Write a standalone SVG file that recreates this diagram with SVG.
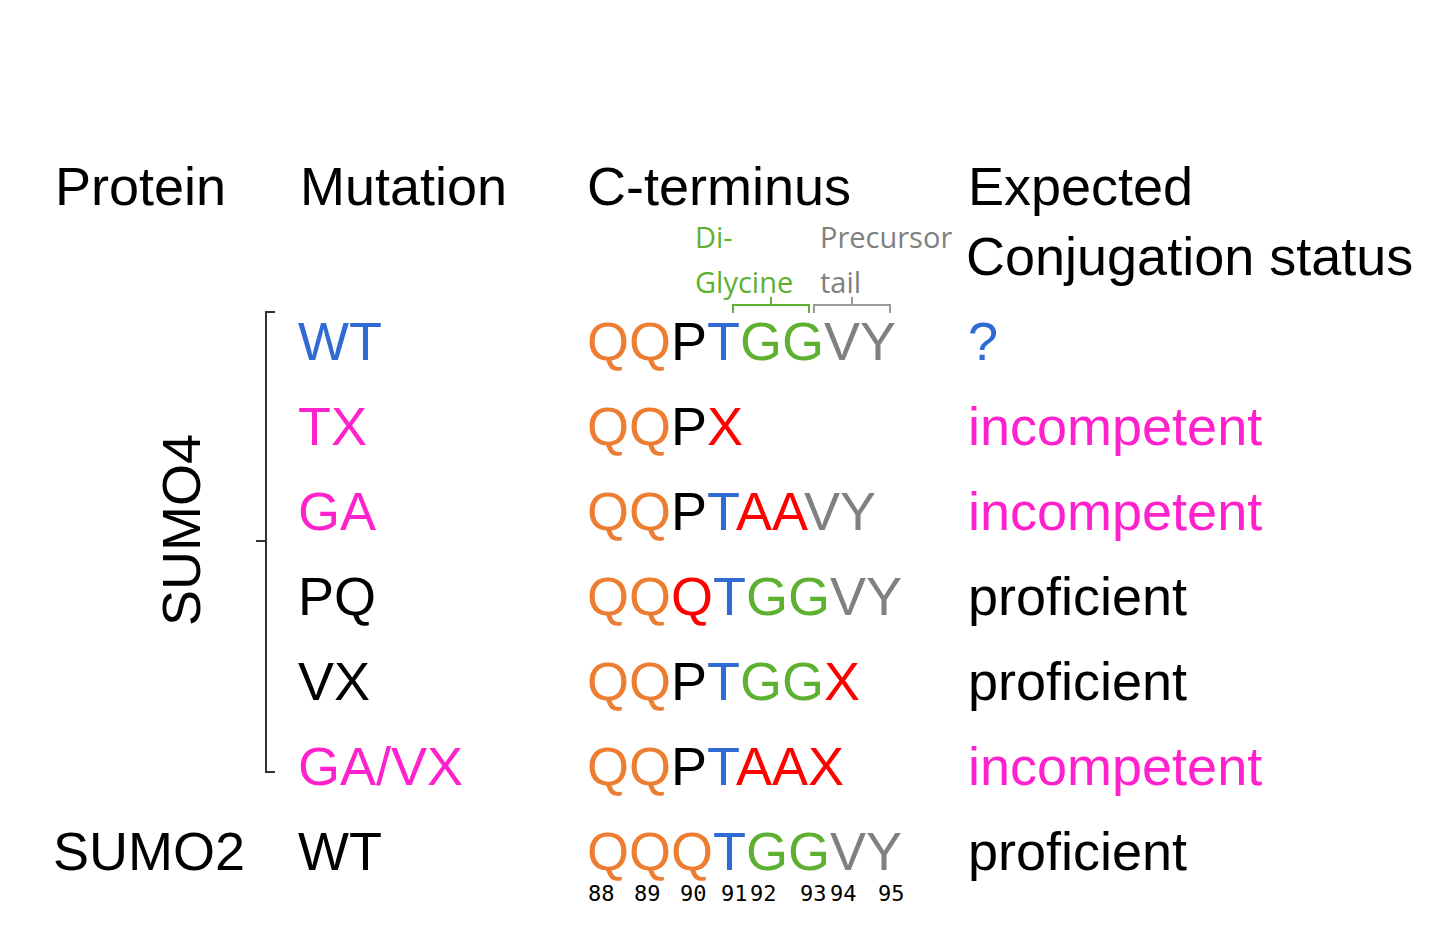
<svg xmlns="http://www.w3.org/2000/svg" width="1455" height="931" viewBox="0 0 1455 931">
<style>
text{font-family:"Liberation Sans",Arial,sans-serif;font-size:54px;fill:#000}
.o{fill:#ED7D31}.b{fill:#2F6BD3}.g{fill:#5DB030}.y{fill:#808080}.m{fill:#FF22CC}.r{fill:#FF0000}
.s{font-family:"Open Sans","Liberation Sans",sans-serif;font-size:29px}
.n{font-family:"DejaVu Sans Mono",monospace;font-size:22px}
</style>
<rect width="1455" height="931" fill="#fff"/>
<g id="headers">
<text x="55" y="205">Protein</text>
<text x="300" y="205">Mutation</text>
<text x="587" y="205">C-terminus</text>
<text x="968" y="205">Expected</text>
<text x="966" y="275">Conjugation  status</text>
<text class="s g" x="695" y="248">Di-</text>
<text class="s g" x="695" y="293">Glycine</text>
<text class="s y" x="820" y="248">Precursor</text>
<text class="s y" x="820" y="293">tail</text>
</g>
<g id="connectors" fill="none" stroke-width="2">
<path d="M733 313V305H809V313M771 305V297" stroke="#5DB030"/>
<path d="M814 313V305H890V313M852 305V297" stroke="#999"/>
<path d="M275 312H266V541H256M266 541V772H275" stroke="#333"/>
</g>
<g id="sumo4"><text transform="translate(200,530) rotate(-90)" text-anchor="middle" font-size="48">SUMO4</text></g>
<g id="row-wt">
<text class="b" x="298" y="360">WT</text>
<text x="587" y="360"><tspan class="o">QQ</tspan><tspan>P</tspan><tspan class="b">T</tspan><tspan class="g">GG</tspan><tspan class="y">VY</tspan></text>
<text class="b" x="968" y="360">?</text>
</g>
<g id="row-tx">
<text class="m" x="298" y="445">TX</text>
<text x="587" y="445"><tspan class="o">QQ</tspan><tspan>P</tspan><tspan class="r">X</tspan></text>
<text class="m" x="968" y="445">incompetent</text>
</g>
<g id="row-ga">
<text class="m" x="298" y="530">GA</text>
<text x="587" y="530"><tspan class="o">QQ</tspan><tspan>P</tspan><tspan class="b">T</tspan><tspan class="r">AA</tspan><tspan class="y">VY</tspan></text>
<text class="m" x="968" y="530">incompetent</text>
</g>
<g id="row-pq">
<text x="298" y="615">PQ</text>
<text x="587" y="615"><tspan class="o">QQ</tspan><tspan class="r">Q</tspan><tspan class="b">T</tspan><tspan class="g">GG</tspan><tspan class="y">VY</tspan></text>
<text x="968" y="615">proficient</text>
</g>
<g id="row-vx">
<text x="298" y="700">VX</text>
<text x="587" y="700"><tspan class="o">QQ</tspan><tspan>P</tspan><tspan class="b">T</tspan><tspan class="g">GG</tspan><tspan class="r">X</tspan></text>
<text x="968" y="700">proficient</text>
</g>
<g id="row-gavx">
<text class="m" x="298" y="785">GA/VX</text>
<text x="587" y="785"><tspan class="o">QQ</tspan><tspan>P</tspan><tspan class="b">T</tspan><tspan class="r">AAX</tspan></text>
<text class="m" x="968" y="785">incompetent</text>
</g>
<g id="row-sumo2">
<text x="53" y="870">SUMO2</text>
<text x="298" y="870">WT</text>
<text x="587" y="870"><tspan class="o">QQQ</tspan><tspan class="b">T</tspan><tspan class="g">GG</tspan><tspan class="y">VY</tspan></text>
<text x="968" y="870">proficient</text>
</g>
<g id="numbers">
<text class="n" x="588" y="901">88</text><text class="n" x="634" y="901">89</text><text class="n" x="680" y="901">90</text><text class="n" x="721" y="901">91</text><text class="n" x="750" y="901">92</text><text class="n" x="800" y="901">93</text><text class="n" x="830" y="901">94</text><text class="n" x="878" y="901">95</text>
</g>
</svg>
